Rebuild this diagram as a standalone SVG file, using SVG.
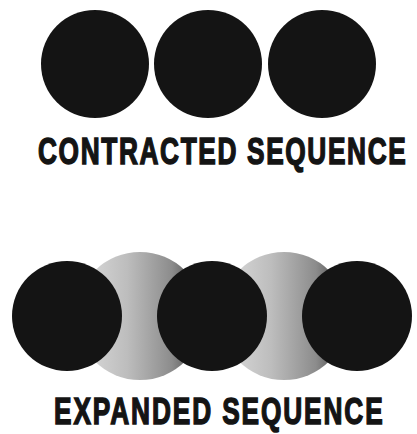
<svg xmlns="http://www.w3.org/2000/svg" width="417" height="434" viewBox="0 0 417 434">
<defs>
<linearGradient id="g" x1="0" y1="0" x2="1" y2="0">
<stop offset="0" stop-color="#dedede"/>
<stop offset="0.4" stop-color="#bdbdbd"/>
<stop offset="0.75" stop-color="#8c8c8c"/>
<stop offset="1" stop-color="#3a3a3a"/>
</linearGradient>
</defs>
<style>
.b{fill:#141414}
.s{fill:url(#g)}
.t{font-family:"Liberation Sans",Arial,sans-serif;font-weight:bold;font-size:37px;fill:#141414;stroke:#141414;stroke-width:1.5;stroke-linejoin:miter}
</style>
<rect width="417" height="434" fill="#ffffff"/>
<g id="contracted">
<circle class="b" cx="95" cy="64" r="54"/>
<circle class="b" cx="208" cy="64" r="54"/>
<circle class="b" cx="322" cy="64" r="54"/>
<text class="t" transform="translate(38,164) scale(0.71,1)" x="0" y="0" textLength="518" lengthAdjust="spacing">CONTRACTED SEQUENCE</text>
</g>
<g id="expanded">
<circle class="s" cx="140" cy="316" r="64"/>
<circle class="s" cx="284" cy="316" r="64"/>
<circle class="b" cx="67" cy="316" r="55"/>
<circle class="b" cx="212" cy="316" r="55"/>
<circle class="b" cx="357" cy="316" r="55"/>
<text class="t" transform="translate(54,424) scale(0.71,1)" x="0" y="0" textLength="463" lengthAdjust="spacing">EXPANDED SEQUENCE</text>
</g>
</svg>
